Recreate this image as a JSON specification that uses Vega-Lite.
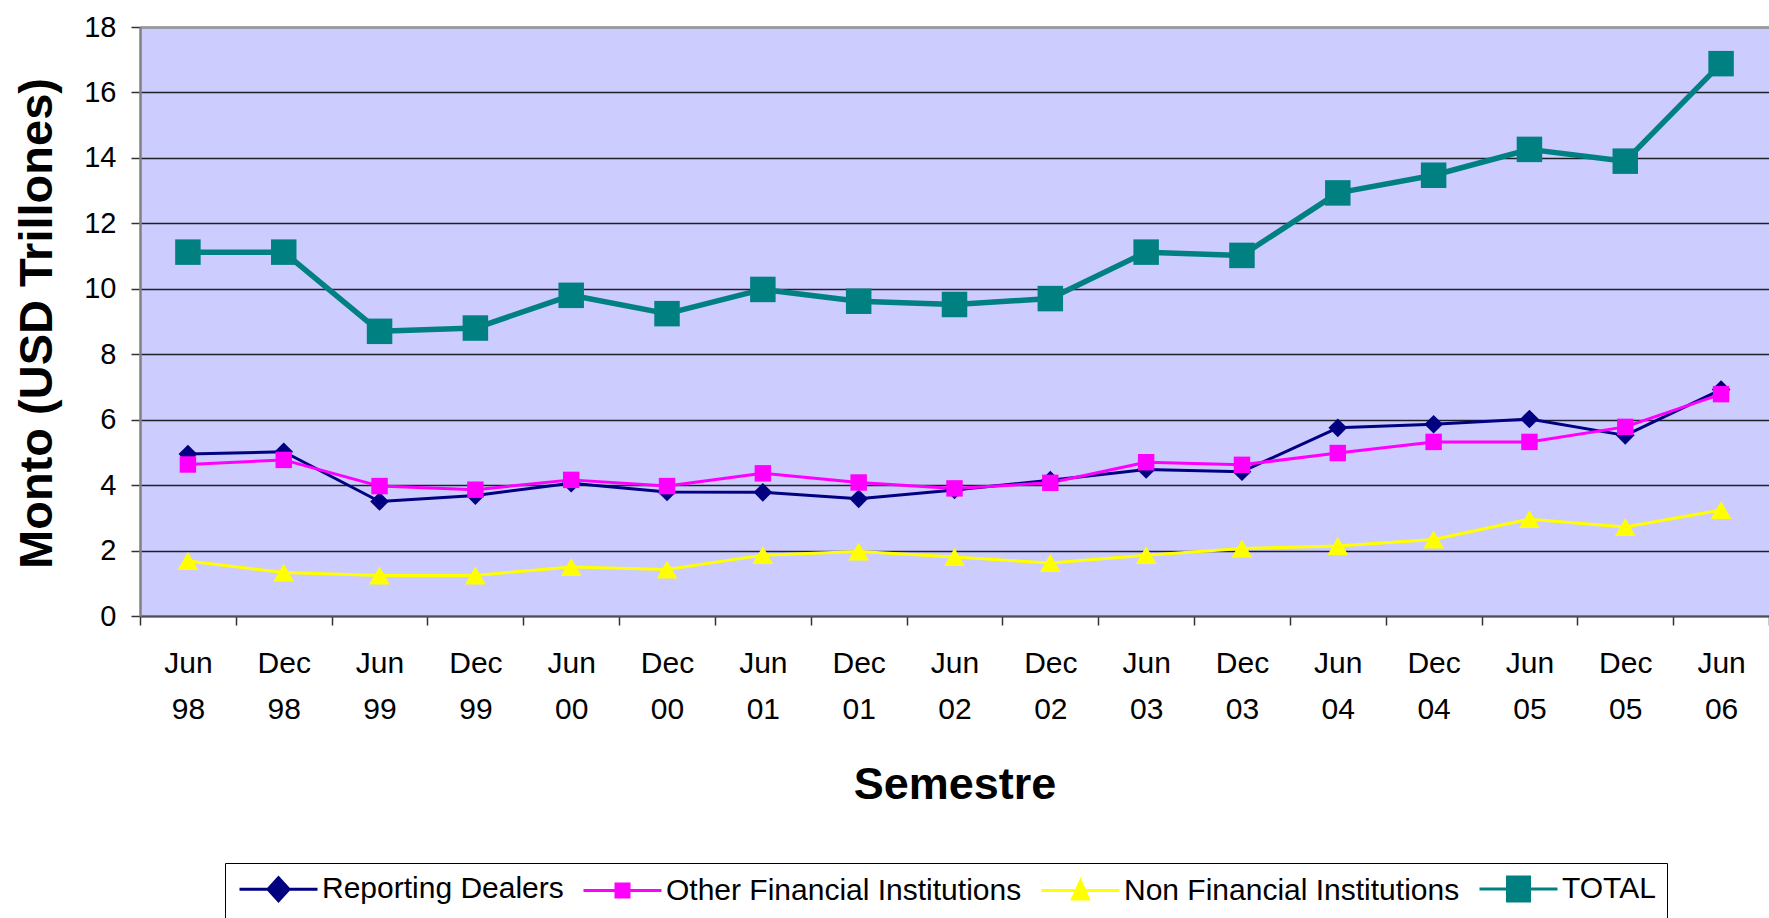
{
  "$schema": "https://vega.github.io/schema/vega-lite/v6.json",
  "autosize": "none",
  "width": 1629,
  "height": 589,
  "padding": {"left": 140, "top": 27, "right": 0, "bottom": 302},
  "background": "white",
  "view": {"fill": "#CCCCFF", "stroke": null},
  "config": {"font": "Liberation Sans"},
  "data": {"values": [
    {"semestre": "Jun 98", "serie": "Reporting Dealers", "monto": 4.95},
    {"semestre": "Dec 98", "serie": "Reporting Dealers", "monto": 5.02},
    {"semestre": "Jun 99", "serie": "Reporting Dealers", "monto": 3.5},
    {"semestre": "Dec 99", "serie": "Reporting Dealers", "monto": 3.68},
    {"semestre": "Jun 00", "serie": "Reporting Dealers", "monto": 4.06},
    {"semestre": "Dec 00", "serie": "Reporting Dealers", "monto": 3.79},
    {"semestre": "Jun 01", "serie": "Reporting Dealers", "monto": 3.78},
    {"semestre": "Dec 01", "serie": "Reporting Dealers", "monto": 3.58},
    {"semestre": "Jun 02", "serie": "Reporting Dealers", "monto": 3.85},
    {"semestre": "Dec 02", "serie": "Reporting Dealers", "monto": 4.15},
    {"semestre": "Jun 03", "serie": "Reporting Dealers", "monto": 4.48},
    {"semestre": "Dec 03", "serie": "Reporting Dealers", "monto": 4.41},
    {"semestre": "Jun 04", "serie": "Reporting Dealers", "monto": 5.75},
    {"semestre": "Dec 04", "serie": "Reporting Dealers", "monto": 5.86},
    {"semestre": "Jun 05", "serie": "Reporting Dealers", "monto": 6.02},
    {"semestre": "Dec 05", "serie": "Reporting Dealers", "monto": 5.52},
    {"semestre": "Jun 06", "serie": "Reporting Dealers", "monto": 6.92},
    {"semestre": "Jun 98", "serie": "Other Financial Institutions", "monto": 4.63},
    {"semestre": "Dec 98", "serie": "Other Financial Institutions", "monto": 4.77},
    {"semestre": "Jun 99", "serie": "Other Financial Institutions", "monto": 3.97},
    {"semestre": "Dec 99", "serie": "Other Financial Institutions", "monto": 3.86},
    {"semestre": "Jun 00", "serie": "Other Financial Institutions", "monto": 4.16},
    {"semestre": "Dec 00", "serie": "Other Financial Institutions", "monto": 3.97},
    {"semestre": "Jun 01", "serie": "Other Financial Institutions", "monto": 4.36},
    {"semestre": "Dec 01", "serie": "Other Financial Institutions", "monto": 4.08},
    {"semestre": "Jun 02", "serie": "Other Financial Institutions", "monto": 3.9},
    {"semestre": "Dec 02", "serie": "Other Financial Institutions", "monto": 4.07},
    {"semestre": "Jun 03", "serie": "Other Financial Institutions", "monto": 4.7},
    {"semestre": "Dec 03", "serie": "Other Financial Institutions", "monto": 4.62},
    {"semestre": "Jun 04", "serie": "Other Financial Institutions", "monto": 4.98},
    {"semestre": "Dec 04", "serie": "Other Financial Institutions", "monto": 5.32},
    {"semestre": "Jun 05", "serie": "Other Financial Institutions", "monto": 5.32},
    {"semestre": "Dec 05", "serie": "Other Financial Institutions", "monto": 5.78},
    {"semestre": "Jun 06", "serie": "Other Financial Institutions", "monto": 6.78},
    {"semestre": "Jun 98", "serie": "Non Financial Institutions", "monto": 1.68},
    {"semestre": "Dec 98", "serie": "Non Financial Institutions", "monto": 1.33},
    {"semestre": "Jun 99", "serie": "Non Financial Institutions", "monto": 1.24},
    {"semestre": "Dec 99", "serie": "Non Financial Institutions", "monto": 1.24},
    {"semestre": "Jun 00", "serie": "Non Financial Institutions", "monto": 1.5},
    {"semestre": "Dec 00", "serie": "Non Financial Institutions", "monto": 1.42},
    {"semestre": "Jun 01", "serie": "Non Financial Institutions", "monto": 1.86},
    {"semestre": "Dec 01", "serie": "Non Financial Institutions", "monto": 1.97},
    {"semestre": "Jun 02", "serie": "Non Financial Institutions", "monto": 1.8},
    {"semestre": "Dec 02", "serie": "Non Financial Institutions", "monto": 1.62},
    {"semestre": "Jun 03", "serie": "Non Financial Institutions", "monto": 1.86},
    {"semestre": "Dec 03", "serie": "Non Financial Institutions", "monto": 2.06},
    {"semestre": "Jun 04", "serie": "Non Financial Institutions", "monto": 2.14},
    {"semestre": "Dec 04", "serie": "Non Financial Institutions", "monto": 2.34},
    {"semestre": "Jun 05", "serie": "Non Financial Institutions", "monto": 2.96},
    {"semestre": "Dec 05", "serie": "Non Financial Institutions", "monto": 2.72},
    {"semestre": "Jun 06", "serie": "Non Financial Institutions", "monto": 3.24},
    {"semestre": "Jun 98", "serie": "TOTAL", "monto": 11.12},
    {"semestre": "Dec 98", "serie": "TOTAL", "monto": 11.12},
    {"semestre": "Jun 99", "serie": "TOTAL", "monto": 8.7},
    {"semestre": "Dec 99", "serie": "TOTAL", "monto": 8.8},
    {"semestre": "Jun 00", "serie": "TOTAL", "monto": 9.8},
    {"semestre": "Dec 00", "serie": "TOTAL", "monto": 9.24},
    {"semestre": "Jun 01", "serie": "TOTAL", "monto": 9.98},
    {"semestre": "Dec 01", "serie": "TOTAL", "monto": 9.62},
    {"semestre": "Jun 02", "serie": "TOTAL", "monto": 9.52},
    {"semestre": "Dec 02", "serie": "TOTAL", "monto": 9.7},
    {"semestre": "Jun 03", "serie": "TOTAL", "monto": 11.12},
    {"semestre": "Dec 03", "serie": "TOTAL", "monto": 11.02},
    {"semestre": "Jun 04", "serie": "TOTAL", "monto": 12.93},
    {"semestre": "Dec 04", "serie": "TOTAL", "monto": 13.47},
    {"semestre": "Jun 05", "serie": "TOTAL", "monto": 14.26},
    {"semestre": "Dec 05", "serie": "TOTAL", "monto": 13.9},
    {"semestre": "Jun 06", "serie": "TOTAL", "monto": 16.88}
  ]},
  "encoding": {
    "x": {
      "field": "semestre", "type": "nominal", "sort": null,
      "scale": {"paddingInner": 0, "paddingOuter": 0},
      "axis": {
        "title": "Semestre", "titleFontSize": 45, "titleFontWeight": "bold", "titleColor": "black",
        "titleY": 182, "titleBaseline": "alphabetic",
        "labelAngle": 0, "labelFontSize": 30, "labelColor": "black", "labelLineHeight": 46,
        "labelPadding": 23, "labelExpr": "split(datum.label, ' ')",
        "tickBand": "extent", "tickSize": 9, "tickColor": "#333333", "tickWidth": 1.5,
        "domainColor": "#505050", "domainWidth": 2, "grid": false
      }
    },
    "y": {
      "field": "monto", "type": "quantitative",
      "scale": {"domain": [0, 18], "nice": false},
      "axis": {
        "title": "Monto (USD Trillones)", "titleFontSize": 47, "titleFontWeight": "bold", "titleColor": "black",
        "titleX": -89, "titleY": 296, "titleBaseline": "alphabetic", "titleAngle": -90,
        "values": [0, 2, 4, 6, 8, 10, 12, 14, 16, 18],
        "labelFontSize": 29, "labelColor": "black", "labelPadding": 15,
        "tickSize": 9, "tickColor": "#333333", "tickWidth": 1.5,
        "domainColor": "#808080", "domainWidth": 2.5,
        "grid": true,
        "gridColor": {"condition": {"test": "datum.value === 18", "value": "#909090"}, "value": "#000000"},
        "gridWidth": {"condition": {"test": "datum.value === 18", "value": 3}, "value": 1.3},
        "gridOpacity": 0.85
      }
    }
  },
  "resolve": {"legend": {"color": "independent"}},
  "layer": [
    {
      "mark": {"type": "line", "strokeJoin": "round"},
      "encoding": {
        "color": {
          "field": "serie", "type": "nominal",
          "scale": {
            "domain": ["Reporting Dealers", "Other Financial Institutions", "Non Financial Institutions", "TOTAL"],
            "range": ["#000080", "#FF00FF", "#FFFF00", "#008080"]
          },
          "legend": null
        },
        "strokeWidth": {"condition": {"test": "datum.serie === 'TOTAL'", "value": 5.5}, "value": 3}
      }
    },
    {
      "mark": {"type": "point", "filled": true, "opacity": 1},
      "encoding": {
        "color": {"field": "serie", "type": "nominal", "legend": null},
        "shape": {
          "condition": [
            {"test": "datum.serie === 'Reporting Dealers'", "value": "diamond"},
            {"test": "datum.serie === 'Non Financial Institutions'", "value": "triangle-up"}
          ],
          "value": "square"
        },
        "size": {
          "condition": [
            {"test": "datum.serie === 'TOTAL'", "value": 650},
            {"test": "datum.serie === 'Non Financial Institutions'", "value": 430},
            {"test": "datum.serie === 'Other Financial Institutions'", "value": 270}
          ],
          "value": 350
        }
      }
    },
    {
      "mark": {"type": "point", "opacity": 0},
      "encoding": {
        "fill": {
          "field": "serie", "type": "nominal",
          "scale": {
            "domain": ["Reporting Dealers", "Other Financial Institutions", "Non Financial Institutions", "TOTAL"],
            "range": ["#000080", "#FF00FF", "#FFFF00", "#008080"]
          },
          "legend": {
            "title": null, "orient": "none", "legendX": 85, "legendY": 836,
            "direction": "horizontal", "columns": 4, "columnPadding": 13,
            "padding": 11, "strokeColor": "black", "fillColor": "white",
            "labelFontSize": 30, "labelColor": "black", "labelFont": "Liberation Sans", "labelLimit": 800,
            "symbolSize": 400, "symbolStrokeWidth": 3, "symbolOpacity": 1,
            "symbolOffset": 27.5, "labelOffset": 28.5
          }
        },
        "stroke": {
          "field": "serie", "type": "nominal",
          "scale": {
            "domain": ["Reporting Dealers", "Other Financial Institutions", "Non Financial Institutions", "TOTAL"],
            "range": ["#000080", "#FF00FF", "#FFFF00", "#008080"]
          },
          "legend": {
            "title": null, "orient": "none", "legendX": 85, "legendY": 836,
            "direction": "horizontal", "columns": 4, "columnPadding": 13,
            "padding": 11, "strokeColor": "black", "fillColor": "white",
            "labelFontSize": 30, "labelColor": "black", "labelFont": "Liberation Sans", "labelLimit": 800,
            "symbolSize": 400, "symbolStrokeWidth": 3, "symbolOpacity": 1,
            "symbolOffset": 27.5, "labelOffset": 28.5
          }
        },
        "shape": {
          "field": "serie", "type": "nominal",
          "scale": {
            "domain": ["Reporting Dealers", "Other Financial Institutions", "Non Financial Institutions", "TOTAL"],
            "range": [
              "M-3.9,0H3.9M0,-1.15L1.05,0L0,1.15L-1.05,0Z",
              "M-3.9,0H3.9M-0.65,-0.65H0.65V0.65H-0.65Z",
              "M-3.9,0H3.9M0,-0.95L0.8,0.85H-0.8Z",
              "M-3.9,0H3.9M-1.1,-1.2H1.1V1.2H-1.1Z"
            ]
          },
          "legend": {
            "title": null, "orient": "none", "legendX": 85, "legendY": 836,
            "direction": "horizontal", "columns": 4, "columnPadding": 13,
            "padding": 11, "strokeColor": "black", "fillColor": "white",
            "labelFontSize": 30, "labelColor": "black", "labelFont": "Liberation Sans", "labelLimit": 800,
            "symbolSize": 400, "symbolStrokeWidth": 3, "symbolOpacity": 1,
            "symbolOffset": 27.5, "labelOffset": 28.5
          }
        }
      }
    }
  ]
}
